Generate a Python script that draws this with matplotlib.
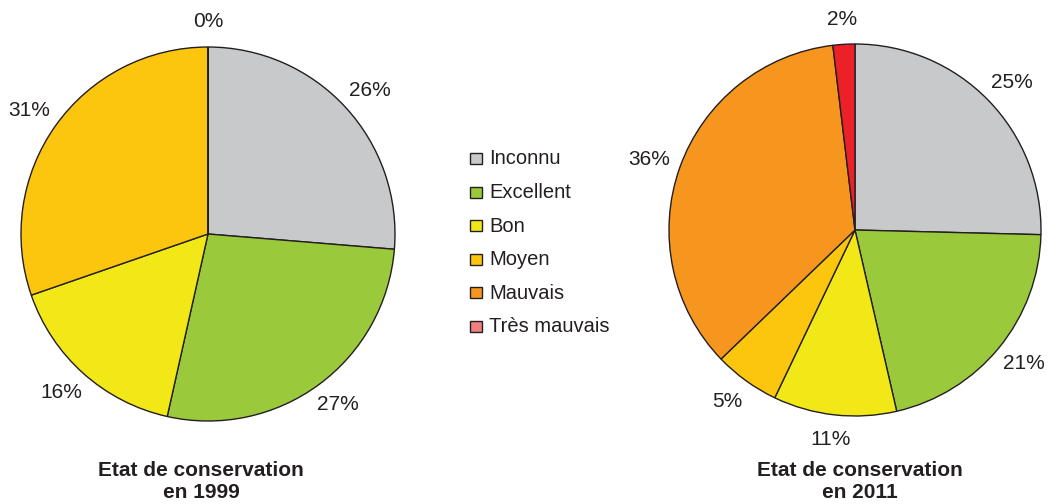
import matplotlib
matplotlib.use("Agg")
import matplotlib.pyplot as plt
from matplotlib.patches import Rectangle
import numpy as np

plt.rcParams['font.family'] = ['Liberation Sans', 'DejaVu Sans']

categories = ['Inconnu', 'Excellent', 'Bon', 'Moyen', 'Mauvais', 'Très mauvais']
values_1999 = [26.3, 27.2, 16.2, 30.3, 0, 0]
labels_1999 = ['26%', '27%', '16%', '31%', '0%', '']
values_2011 = [25.4, 21.0, 10.7, 5.7, 35.3, 1.9]
labels_2011 = ['25%', '21%', '11%', '5%', '36%', '2%']
title_1999 = 'Etat de conservation\nen 1999'
title_2011 = 'Etat de conservation\nen 2011'

colors = ['#c8c9cb', '#9aca3c', '#f2e817', '#fcc60f', '#f7961f', '#ec2027']
legend_colors = ['#c8c9cb', '#9aca3c', '#f2e817', '#fcc60f', '#f7961f', '#f08080']
ink = '#231f20'

W, H = 1051, 504
fig = plt.figure(figsize=(W / 100, H / 100), dpi=100)


def draw_pie(cx, cy, r, values, labels):
    ax = fig.add_axes([(cx - r) / W, (H - cy - r) / H, 2 * r / W, 2 * r / H])
    wedges, _ = ax.pie(values, colors=colors, startangle=90, counterclock=False,
                       radius=1, wedgeprops=dict(edgecolor=ink, linewidth=1.0))
    for w, lab in zip(wedges, labels):
        if not lab:
            continue
        ang = np.deg2rad((w.theta1 + w.theta2) / 2)
        ax.text(1.175 * np.cos(ang), 1.135 * np.sin(ang), lab, ha='center', va='center',
                fontsize=15, color=ink)
    ax.set_xlim(-1, 1)
    ax.set_ylim(-1, 1)
    ax.set_aspect('equal')
    ax.axis('off')
    return ax


draw_pie(208, 234, 187, values_1999, labels_1999)
draw_pie(855, 230, 186, values_2011, labels_2011)

fig.text(201 / W, 1 - 482 / H, title_1999, ha='center', va='center', fontsize=15,
         fontweight='bold', color=ink, linespacing=1.2)
fig.text(860 / W, 1 - 482 / H, title_2011, ha='center', va='center', fontsize=15,
         fontweight='bold', color=ink, linespacing=1.2)

# legend
row_y = [158 + i * 33.6 for i in range(len(categories))]
for y, c, name in zip(row_y, legend_colors, categories):
    fig.patches.append(Rectangle((470 / W, 1 - (y + 6) / H), 12 / W, 11 / H,
                                 transform=fig.transFigure, facecolor=c,
                                 edgecolor=ink, linewidth=1.0))
    fig.text(489 / W, 1 - (y + 1) / H, name, ha='left', va='center', fontsize=14.5,
             color=ink)

fig.savefig('out.png', dpi=100)
